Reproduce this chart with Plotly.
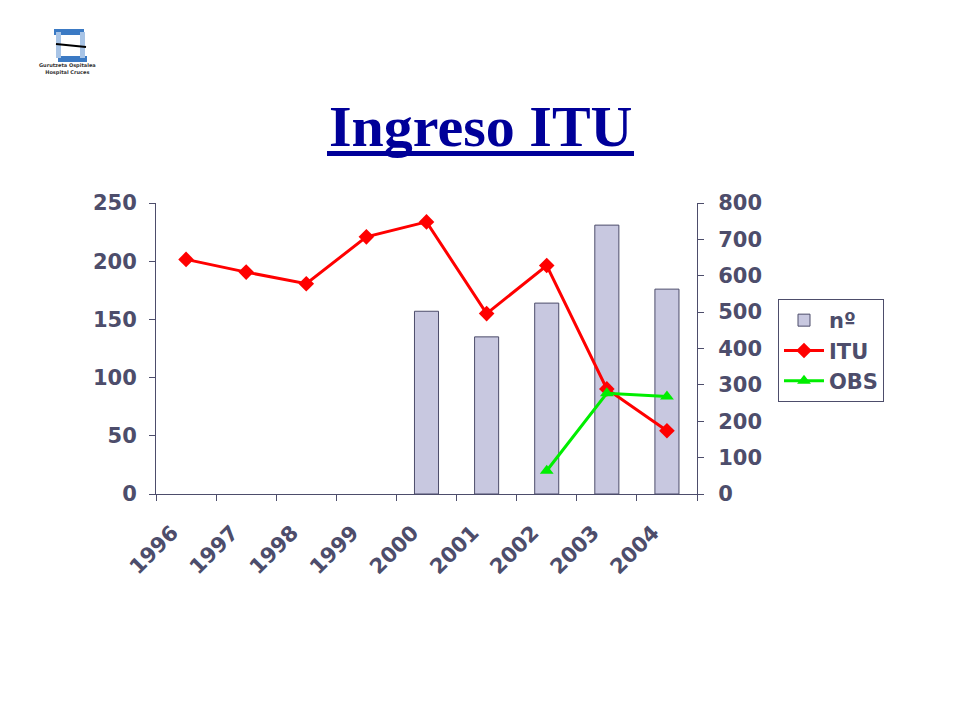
import plotly.graph_objects as go

years = ["1996", "1997", "1998", "1999", "2000", "2001", "2002", "2003", "2004"]
n_values = [None, None, None, None, 157, 135, 164, 231, 176]
itu_values = [645, 610, 578, 707, 748, 496, 628, 289, 174]
obs_values = [None, None, None, None, None, None, 64, 277, 268]

txt = "#4d4d6b"
tfont = dict(family="DejaVu Sans", size=21, color=txt)

# page body has an 8px offset; plot area in screen px: x 156..697, y 203..494
OFF = 8
L, R, T, B = 156, 697, 203, 494
W = R - L
H = B - T


def px(x):
    return (x - L) / W


def py(y):
    return (B - y) / H


fig = go.Figure()
fig.add_trace(go.Bar(x=years, y=n_values, name="<b>nº</b>", width=0.4,
                     marker=dict(color="#c8c8e0", line=dict(color="#4d4d6b", width=1)),
                     yaxis="y"))
fig.add_trace(go.Scatter(x=years, y=itu_values, name="<b>ITU</b>", mode="lines+markers",
                         line=dict(color="#ff0000", width=3),
                         marker=dict(symbol="diamond", size=12, color="#ff0000"),
                         yaxis="y2"))
fig.add_trace(go.Scatter(x=years, y=obs_values, name="<b>OBS</b>", mode="lines+markers",
                         line=dict(color="#00ee00", width=3),
                         marker=dict(symbol="triangle-up", size=12, color="#00ee00"),
                         yaxis="y2"))

fig.update_layout(
    width=960, height=720,
    margin=dict(l=L - OFF, r=960 - R + OFF, t=T - OFF, b=720 - B + OFF),
    paper_bgcolor="white", plot_bgcolor="white",
    font=tfont,
    showlegend=True,
    legend=dict(x=px(778), y=py(299), xanchor="left", yanchor="top",
                bordercolor="#4d4d6b", borderwidth=1,
                font=dict(family="DejaVu Sans", size=21, color=txt),
                tracegroupgap=0, itemwidth=40),
    xaxis=dict(type="category", range=[-0.5, 8.5], tickangle=-45, tickson="boundaries",
               ticks="outside", ticklen=6, tickcolor="#4d4d6b",
               showline=True, linecolor="#4d4d6b", linewidth=1,
               showgrid=False, zeroline=False,
               tickfont=tfont, ticklabelstandoff=17, ticklabelshift=-14,
               tickprefix="<b>", ticksuffix="</b>"),
    yaxis=dict(range=[0, 250], dtick=50, ticks="outside", ticklen=6,
               tickcolor="#4d4d6b", showline=True, linecolor="#4d4d6b",
               showgrid=False, zeroline=False,
               tickfont=tfont, ticklabelstandoff=8,
               tickprefix="<b>", ticksuffix="</b>"),
    yaxis2=dict(range=[0, 800], dtick=100, overlaying="y", side="right",
                ticks="outside", ticklen=6, tickcolor="#4d4d6b",
                showline=True, linecolor="#4d4d6b", showgrid=False, zeroline=False,
                tickfont=tfont, ticklabelstandoff=10,
                tickprefix="<b>", ticksuffix="</b>"),
    bargap=0.6,
)

# Title
fig.add_annotation(text="<b>Ingreso ITU</b>", xref="paper", yref="paper",
                   x=px(480), y=py(126), showarrow=False,
                   xanchor="center", yanchor="middle",
                   font=dict(family="Liberation Serif", size=58, color="#000099"))
fig.add_shape(type="rect", xref="paper", yref="paper",
              x0=px(327), x1=px(634), y0=py(156), y1=py(151),
              fillcolor="#000099", line=dict(width=0))

# Logo (simplified drawing)
logo_rects = [
    (54, 84, 29, 35, "#3b7ac4"),
    (58, 87, 56, 62, "#3b7ac4"),
    (56, 61, 32, 58, "#a8c4e6"),
    (80, 85, 32, 58, "#a8c4e6"),
]
for x0, x1, y0, y1, c in logo_rects:
    fig.add_shape(type="rect", xref="paper", yref="paper",
                  x0=px(x0), x1=px(x1), y0=py(y1), y1=py(y0),
                  fillcolor=c, line=dict(width=0), layer="above")
fig.add_shape(type="line", xref="paper", yref="paper",
              x0=px(56), x1=px(86), y0=py(44), y1=py(47),
              line=dict(color="black", width=2))
fig.add_annotation(text="<b>Gurutzeta Ospitalea<br>Hospital Cruces</b>",
                   xref="paper", yref="paper",
                   x=px(67), y=py(69), showarrow=False,
                   xanchor="center", yanchor="middle",
                   font=dict(family="DejaVu Sans", size=5, color="#333333"))

fig.write_html("out.html")
